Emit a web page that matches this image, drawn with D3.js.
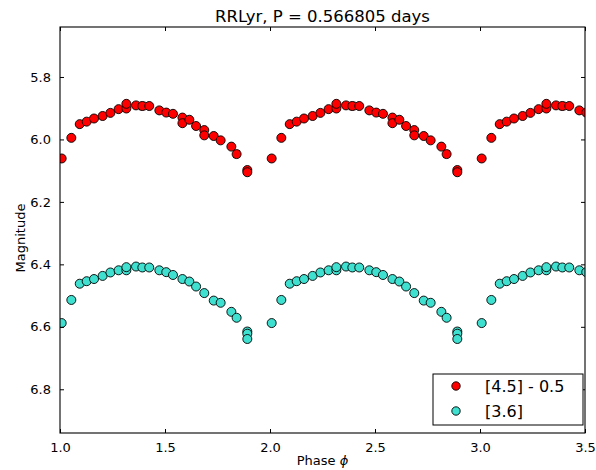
<!DOCTYPE html>
<html>
<head>
<meta charset="utf-8">
<script src="https://cdn.jsdelivr.net/npm/d3@7"></script>
<style>
  html, body { margin: 0; padding: 0; background: #fff; }
  svg { display: block; font-family: "DejaVu Sans", sans-serif; }
</style>
</head>
<body>
<svg id="chart" width="596" height="470"></svg>
<script>
// Folded light curve of RR Lyr: one cycle of phases, repeated over the plotted phase range.
const cycleOffsets = [1, 2, 3];

const phase45 = [0.008, 0.054, 0.094, 0.127, 0.162, 0.203, 0.240, 0.279, 0.316, 0.316,
                 0.362, 0.392, 0.425, 0.473, 0.506, 0.538, 0.583, 0.583, 0.616, 0.648,
                 0.687, 0.687, 0.732, 0.765, 0.816, 0.841, 0.892, 0.892];
const mag45 = [6.061, 5.995, 5.951, 5.943, 5.933, 5.925, 5.915, 5.903, 5.901, 5.886,
               5.891, 5.893, 5.893, 5.907, 5.914, 5.918, 5.930, 5.948, 5.937, 5.957,
               5.970, 5.987, 5.989, 6.003, 6.023, 6.047, 6.098, 6.105];
const err45 = [0.004, 0.004, 0.005, 0.005, 0.006, 0.005, 0.005, 0.008, 0.005, 0.006,
               0.006, 0.012, 0.008, 0.008, 0.005, 0.007, 0.006, 0.006, 0.005, 0.006,
               0.005, 0.005, 0.005, 0.005, 0.005, 0.011, 0.006, 0.006];

const phase36 = [0.008, 0.054, 0.094, 0.127, 0.162, 0.203, 0.240, 0.279, 0.316, 0.316,
                 0.362, 0.392, 0.425, 0.473, 0.506, 0.538, 0.583, 0.616, 0.648, 0.687,
                 0.732, 0.765, 0.816, 0.841, 0.892, 0.892, 0.892];
const mag36 = [6.588, 6.514, 6.462, 6.454, 6.447, 6.437, 6.426, 6.419, 6.419, 6.409,
               6.407, 6.410, 6.410, 6.419, 6.425, 6.434, 6.447, 6.455, 6.471, 6.492,
               6.516, 6.523, 6.552, 6.571, 6.615, 6.622, 6.639];
const err36 = [0.004, 0.004, 0.005, 0.006, 0.006, 0.005, 0.005, 0.006, 0.006, 0.005,
               0.005, 0.005, 0.008, 0.005, 0.005, 0.006, 0.005, 0.005, 0.005, 0.006,
               0.008, 0.005, 0.005, 0.005, 0.010, 0.006, 0.006];

const xTicks = [1.0, 1.5, 2.0, 2.5, 3.0, 3.5];
const yTicks = [5.8, 6.0, 6.2, 6.4, 6.6, 6.8];
const seriesNames = ["[4.5] - 0.5", "[3.6]"];
const seriesColors = ["#ff0000", "#40e0d0"];

const margin = { left: 60, right: 11, top: 27, bottom: 37 };
const W = 596, H = 470;
const x0 = margin.left, x1 = W - margin.right, y0 = margin.top, y1 = H - margin.bottom;

const svg = d3.select("#chart");
const x = d3.scaleLinear().domain([1.0, 3.5]).range([x0, x1]);
const y = d3.scaleLinear().domain([5.64, 6.94]).range([y0, y1]);

function expand(phases, mags, errs) {
  const out = [];
  cycleOffsets.forEach(off => {
    phases.forEach((p, i) => out.push({ ph: p + off, m: mags[i], e: errs[i] }));
  });
  return out;
}
const series = [expand(phase45, mag45, err45), expand(phase36, mag36, err36)];

svg.append("clipPath").attr("id", "plotClip")
  .append("rect").attr("x", x0).attr("y", y0).attr("width", x1 - x0).attr("height", y1 - y0);

const plot = svg.append("g").attr("clip-path", "url(#plotClip)");

series.forEach((data, si) => {
  const g = plot.append("g");
  // error bars
  const eb = g.selectAll("g.err").data(data).join("g").attr("class", "err")
    .attr("stroke", "#000").attr("stroke-width", 1);
  eb.append("line")
    .attr("x1", d => x(d.ph)).attr("x2", d => x(d.ph))
    .attr("y1", d => y(d.m - d.e)).attr("y2", d => y(d.m + d.e));
  eb.append("line")
    .attr("x1", d => x(d.ph) - 3.5).attr("x2", d => x(d.ph) + 3.5)
    .attr("y1", d => y(d.m - d.e)).attr("y2", d => y(d.m - d.e));
  eb.append("line")
    .attr("x1", d => x(d.ph) - 3.5).attr("x2", d => x(d.ph) + 3.5)
    .attr("y1", d => y(d.m + d.e)).attr("y2", d => y(d.m + d.e));
  // markers
  g.selectAll("circle").data(data).join("circle")
    .attr("cx", d => x(d.ph)).attr("cy", d => y(d.m)).attr("r", 4.5)
    .attr("fill", seriesColors[si]).attr("stroke", "#000").attr("stroke-width", 0.9);
});

// frame
svg.append("rect").attr("x", x0).attr("y", y0).attr("width", x1 - x0).attr("height", y1 - y0)
  .attr("fill", "none").attr("stroke", "#000").attr("stroke-width", 1.1);

// axes with inward ticks on all sides
const tickLen = 4;
const axB = svg.append("g").attr("transform", `translate(0,${y1})`)
  .call(d3.axisBottom(x).tickValues(xTicks).tickFormat(d3.format(".1f")).tickSizeInner(-tickLen).tickSizeOuter(0).tickPadding(10));
const axT = svg.append("g").attr("transform", `translate(0,${y0})`)
  .call(d3.axisTop(x).tickValues(xTicks).tickFormat("").tickSizeInner(-tickLen).tickSizeOuter(0));
const axL = svg.append("g").attr("transform", `translate(${x0},0)`)
  .call(d3.axisLeft(y).tickValues(yTicks).tickFormat(d3.format(".1f")).tickSizeInner(-tickLen).tickSizeOuter(0).tickPadding(9));
const axR = svg.append("g").attr("transform", `translate(${x1},0)`)
  .call(d3.axisRight(y).tickValues(yTicks).tickFormat("").tickSizeInner(-tickLen).tickSizeOuter(0));
[axB, axT, axL, axR].forEach(a => {
  a.select(".domain").remove();
  a.selectAll(".tick line").attr("stroke", "#000");
  a.selectAll("text").attr("font-family", "DejaVu Sans").attr("font-size", 13).attr("fill", "#000");
});

// title and axis labels
svg.append("text").attr("x", (x0 + x1) / 2).attr("y", 22).attr("text-anchor", "middle")
  .attr("font-size", 16.5).text("RRLyr, P = 0.566805 days");

const xl = svg.append("text").attr("x", (x0 + x1) / 2).attr("y", 465).attr("text-anchor", "middle")
  .attr("font-size", 13);
xl.append("tspan").text("Phase ");
xl.append("tspan").attr("font-style", "italic").text("ϕ");

svg.append("text").attr("transform", `translate(25,${(y0 + y1) / 2 + 8}) rotate(-90)`)
  .attr("text-anchor", "middle").attr("font-size", 13).text("Magnitude");

// legend
const lg = svg.append("g");
lg.append("rect").attr("x", 433).attr("y", 374).attr("width", 150).attr("height", 51)
  .attr("fill", "#fff").attr("stroke", "#000").attr("stroke-width", 1);
seriesNames.forEach((name, i) => {
  const cy = 386 + i * 25;
  lg.append("circle").attr("cx", 456).attr("cy", cy).attr("r", 4.2)
    .attr("fill", seriesColors[i]).attr("stroke", "#000").attr("stroke-width", 0.9);
  lg.append("text").attr("x", 485).attr("y", cy + 6).attr("font-size", 16).text(name);
});
</script>
</body>
</html>
